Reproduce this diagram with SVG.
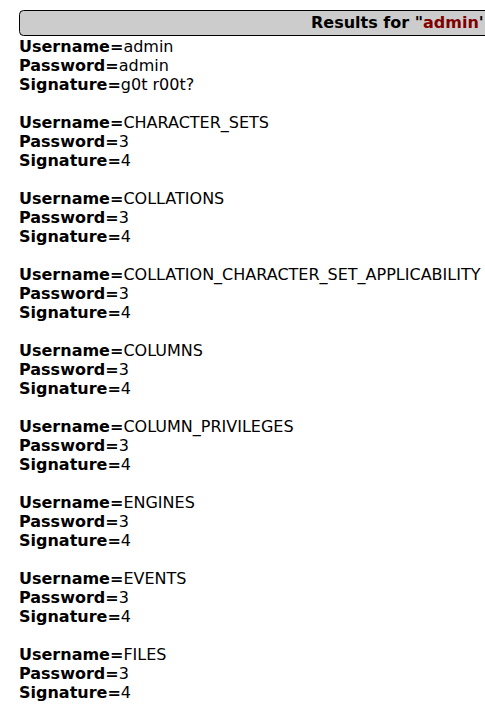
<svg xmlns="http://www.w3.org/2000/svg" width="485" height="714" viewBox="0 0 485 714">
<style>
text{font-family:"DejaVu Sans",sans-serif;font-size:16px;fill:#000}
.b{font-weight:bold}
.red{fill:#800000}
</style>
<rect x="0" y="0" width="485" height="714" fill="#fff"/>
<g id="header">
<rect x="19.5" y="10.5" width="480" height="25" rx="4" ry="4" fill="#ccc" stroke="#000" stroke-width="1"/>
<text x="311" y="28" class="b">Results for "<tspan class="red">admin</tspan>'</text>
</g>
<g id="results">
<text x="19" y="52"><tspan class="b">Username=</tspan>admin</text>
<text x="19" y="71"><tspan class="b">Password=</tspan>admin</text>
<text x="19" y="90"><tspan class="b">Signature=</tspan>g0t r00t?</text>

<text x="19" y="128"><tspan class="b">Username=</tspan>CHARACTER_SETS</text>
<text x="19" y="147"><tspan class="b">Password=</tspan>3</text>
<text x="19" y="166"><tspan class="b">Signature=</tspan>4</text>

<text x="19" y="204"><tspan class="b">Username=</tspan>COLLATIONS</text>
<text x="19" y="223"><tspan class="b">Password=</tspan>3</text>
<text x="19" y="242"><tspan class="b">Signature=</tspan>4</text>

<text x="19" y="280"><tspan class="b">Username=</tspan>COLLATION_CHARACTER_SET_APPLICABILITY</text>
<text x="19" y="299"><tspan class="b">Password=</tspan>3</text>
<text x="19" y="318"><tspan class="b">Signature=</tspan>4</text>

<text x="19" y="356"><tspan class="b">Username=</tspan>COLUMNS</text>
<text x="19" y="375"><tspan class="b">Password=</tspan>3</text>
<text x="19" y="394"><tspan class="b">Signature=</tspan>4</text>

<text x="19" y="432"><tspan class="b">Username=</tspan>COLUMN_PRIVILEGES</text>
<text x="19" y="451"><tspan class="b">Password=</tspan>3</text>
<text x="19" y="470"><tspan class="b">Signature=</tspan>4</text>

<text x="19" y="508"><tspan class="b">Username=</tspan>ENGINES</text>
<text x="19" y="527"><tspan class="b">Password=</tspan>3</text>
<text x="19" y="546"><tspan class="b">Signature=</tspan>4</text>

<text x="19" y="584"><tspan class="b">Username=</tspan>EVENTS</text>
<text x="19" y="603"><tspan class="b">Password=</tspan>3</text>
<text x="19" y="622"><tspan class="b">Signature=</tspan>4</text>

<text x="19" y="660"><tspan class="b">Username=</tspan>FILES</text>
<text x="19" y="679"><tspan class="b">Password=</tspan>3</text>
<text x="19" y="698"><tspan class="b">Signature=</tspan>4</text>
</g>
</svg>
